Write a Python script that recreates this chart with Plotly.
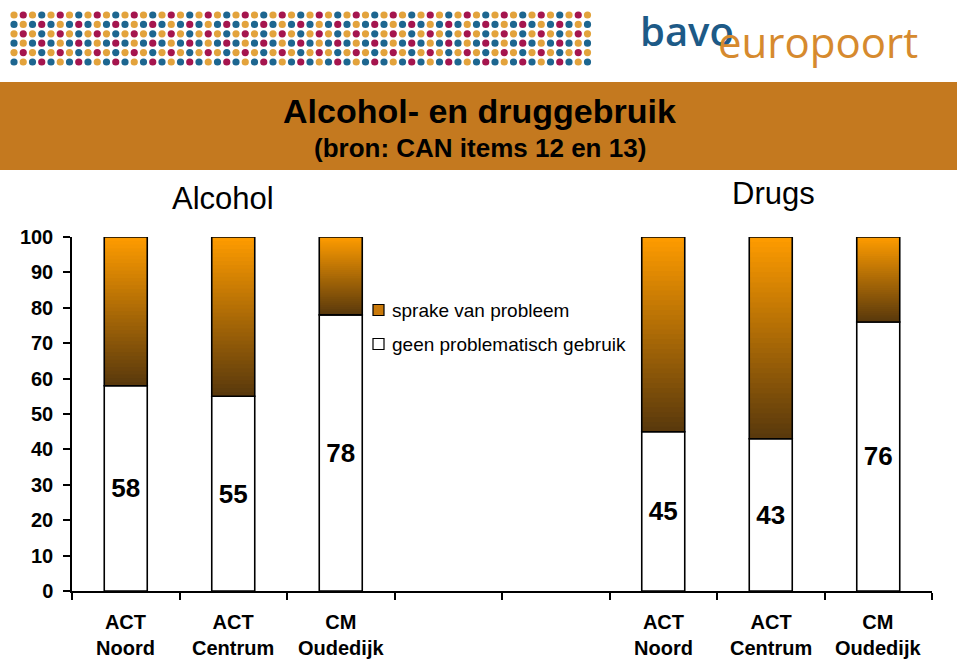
import plotly.graph_objects as go

# ---- data ----
groups = ["Alcohol", "Drugs"]
services = ["ACT<br>Noord", "ACT<br>Centrum", "CM<br>Oudedijk"]
alcohol_geen = [58, 55, 78]   # % geen problematisch gebruik
drugs_geen = [45, 43, 76]
slots_alcohol = [0, 1, 2]
slots_drugs = [5, 6, 7]
y_ticks = [0, 10, 20, 30, 40, 50, 60, 70, 80, 90, 100]
series_names = ["sprake van probleem", "geen problematisch gebruik"]
title = "Alcohol- en druggebruik"
subtitle = "(bron: CAN items 12 en 13)"

# ---- layout helpers (pixel -> paper) ----
W, H = 960, 661
L, R, T, B = 72, 28, 237, 70
def px(x):
    return (x - L) / (W - L - R)
def py(y):
    return (H - B - y) / (H - T - B)

FONT = "Liberation Sans, Arial, sans-serif"

xs = slots_alcohol + slots_drugs
geen = alcohol_geen + drugs_geen
probleem = [100 - g for g in geen]
labels = services + services

fig = go.Figure()

# white part
fig.add_trace(go.Bar(
    x=xs, y=geen, base=[0] * len(geen), width=0.4,
    marker=dict(color="white", line=dict(color="black", width=1.6)),
    text=geen, textposition="inside", insidetextanchor="middle", textangle=0,
    textfont=dict(family=FONT, size=26, color="black", weight="bold"),
    name=series_names[1], showlegend=False,
))

# orange -> brown gradient for the top part, drawn as overlapping slices
top_col = (255, 156, 0)
bot_col = (88, 56, 12)
N = 40
for i in range(N):
    t = (i + 0.5) / N
    c = tuple(int(round(b + (tp - b) * t)) for b, tp in zip(bot_col, top_col))
    bases = [g + p * i / N for g, p in zip(geen, probleem)]
    fig.add_trace(go.Bar(
        x=xs, y=[100 - b for b in bases], base=bases, width=0.4,
        marker=dict(color="rgb(%d,%d,%d)" % c, line=dict(width=0)),
        hoverinfo="skip", showlegend=False,
    ))

# outline of the top part
fig.add_trace(go.Bar(
    x=xs, y=probleem, base=geen, width=0.4,
    marker=dict(color="rgba(0,0,0,0)", line=dict(color="black", width=1.6)),
    name=series_names[0], showlegend=False,
))

shapes = []
annotations = []

# header band
shapes.append(dict(type="rect", xref="paper", yref="paper",
                   x0=px(0), x1=px(957), y0=py(170), y1=py(82),
                   fillcolor="#C4791F", line=dict(width=0), layer="below"))

# dotted logo strip
dot_cols = {"o": "#E3A33C", "t": "#1D6690", "m": "#A5154E"}
for r in range(6):
    cy = 15 + r * 9.4
    for c in range(63):
        cx = 14 + c * 9.25
        if r % 2 == 0:
            key = "o" if c % 2 == 0 else ("m" if c % 4 == 1 else "t")
        else:
            key = "t" if c % 2 == 0 else ("o" if c % 4 == 1 else "m")
        shapes.append(dict(type="circle", xref="paper", yref="paper",
                           x0=px(cx - 3.6), x1=px(cx + 3.6),
                           y0=py(cy + 3.6), y1=py(cy - 3.6),
                           fillcolor=dot_cols[key], line=dict(width=0)))

# logo text
annotations.append(dict(text="bavo", xref="paper", yref="paper", x=px(638), y=py(30),
                        xanchor="left", yanchor="middle", showarrow=False,
                        font=dict(family="Open Sans, sans-serif", size=40, color="#1D5A87", weight=600)))
annotations.append(dict(text="europoort", xref="paper", yref="paper", x=px(716), y=py(42),
                        xanchor="left", yanchor="middle", showarrow=False,
                        font=dict(family="Open Sans, sans-serif", size=42, color="#D68A2E")))

def centered(text, x, y, size, bold=False):
    return dict(text=text, xref="paper", yref="paper", x=px(x), y=py(y),
                xanchor="center", yanchor="middle", showarrow=False,
                font=dict(family=FONT, size=size, color="black",
                          weight="bold" if bold else "normal"))

# titles
annotations.append(centered(title, 479, 111, 34, True))
annotations.append(centered(subtitle, 480, 148, 26, True))
annotations.append(centered(groups[0], 223, 198, 31))
annotations.append(centered(groups[1], 773, 193, 31))

# category labels under the axis
for x, lab in zip(xs, labels):
    annotations.append(dict(text=lab, xref="x", yref="paper", x=x, y=py(635),
                            xanchor="center", yanchor="middle", showarrow=False,
                            font=dict(family=FONT, size=20, color="black", weight="bold")))

# legend
leg_cols = ["#C9790A", "white"]
for k, (name, col) in enumerate(zip(series_names, leg_cols)):
    cy = 310 + k * 34
    shapes.append(dict(type="rect", xref="paper", yref="paper",
                       x0=px(373), x1=px(384), y0=py(cy + 5.5), y1=py(cy - 5.5),
                       fillcolor=col, line=dict(color="black", width=1.2)))
    annotations.append(dict(text=name, xref="paper", yref="paper", x=px(390), y=py(cy),
                            xanchor="left", yanchor="middle", showarrow=False,
                            font=dict(family=FONT, size=19, color="black")))

fig.update_layout(
    width=W, height=H,
    margin=dict(l=L, r=R, t=T, b=B),
    barmode="overlay",
    paper_bgcolor="white", plot_bgcolor="white",
    showlegend=False,
    shapes=shapes, annotations=annotations,
    xaxis=dict(range=[-0.5, 7.5], tickvals=[i - 0.5 for i in range(9)],
               showticklabels=False, ticks="outside", ticklen=7, tickwidth=1.5,
               tickcolor="black", showline=True, linecolor="black", linewidth=1.5,
               showgrid=False, zeroline=False, fixedrange=True),
    yaxis=dict(range=[0, 100], tickvals=y_ticks, ticks="outside", ticklen=7,
               tickwidth=1.5, tickcolor="black", showline=True, linecolor="black",
               linewidth=1.5, showgrid=False, zeroline=False, ticklabelstandoff=6,
               tickfont=dict(family=FONT, size=20, color="black", weight="bold")),
)

fig.write_html("out.html", config={"displayModeBar": False},
               post_script="document.body.style.margin='0';")
